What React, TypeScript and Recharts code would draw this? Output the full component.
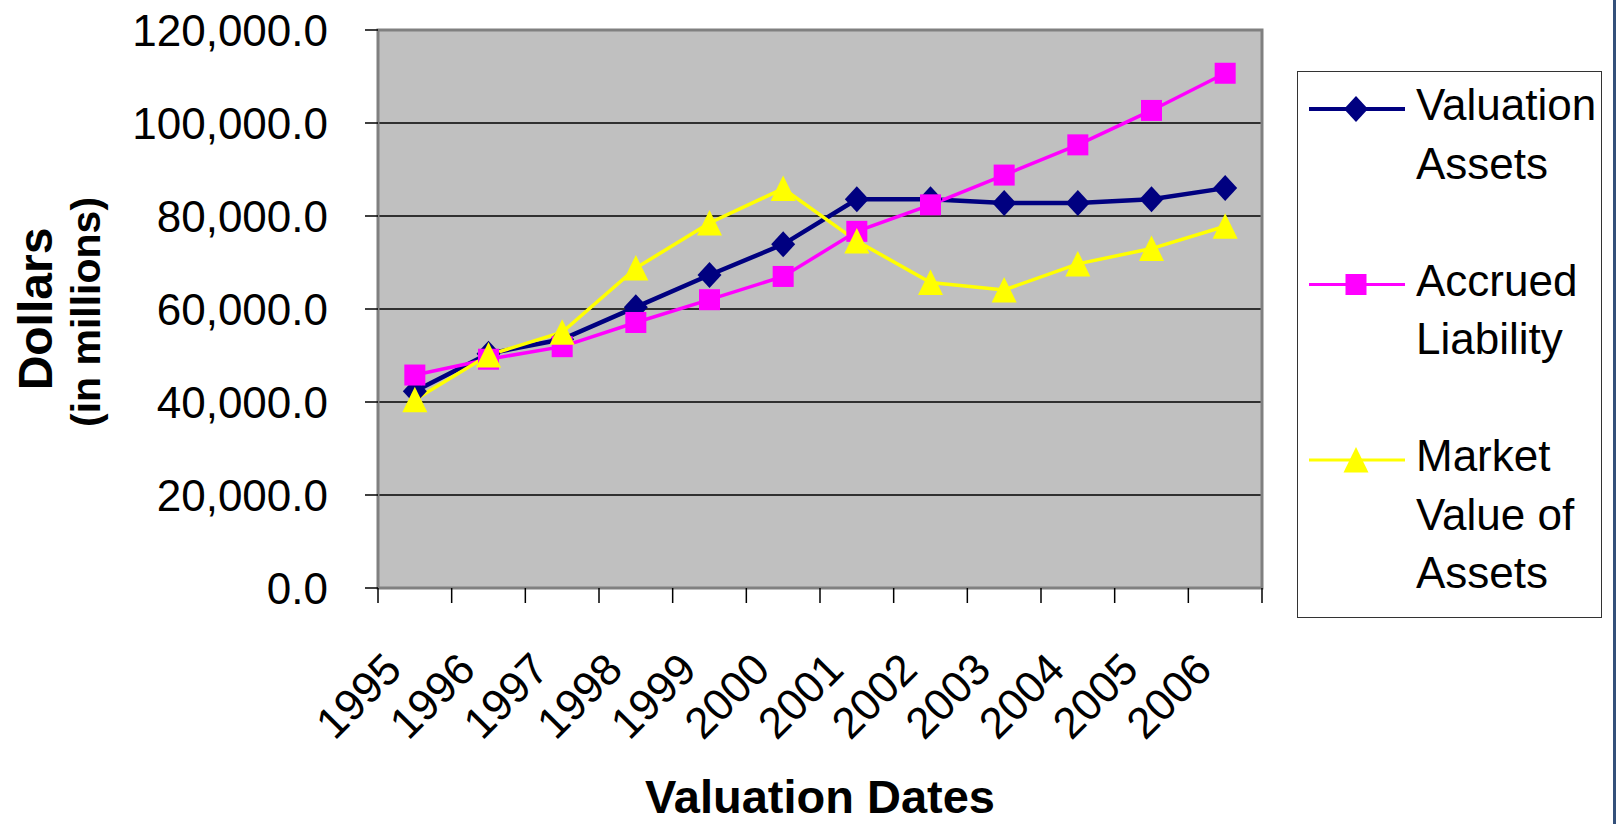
import { LineChart, Line, XAxis, YAxis, CartesianGrid, ReferenceArea } from 'recharts'

const years = ['1995', '1996', '1997', '1998', '1999', '2000', '2001', '2002', '2003', '2004', '2005', '2006']
const valuationAssets = [42300, 50400, 53500, 60400, 67300, 73900, 83600, 83600, 82800, 82800, 83600, 86000]
const accruedLiability = [45800, 49200, 51900, 57100, 62000, 67000, 76700, 82400, 88800, 95300, 102700, 110700]
const marketValue = [40500, 50100, 55000, 68800, 78500, 85900, 74600, 65700, 64100, 69700, 73000, 77800]
const yTicks = [0, 20000, 40000, 60000, 80000, 100000, 120000]

const FONT = '"Liberation Sans", Arial, sans-serif'

const data = years.map((year, i) => ({
  year,
  valuation: valuationAssets[i],
  accrued: accruedLiability[i],
  market: marketValue[i],
}))

const series = [
  { key: 'valuation', lines: ['Valuation', 'Assets'], color: '#000080', width: 4.5, shape: 'diamond' },
  { key: 'accrued', lines: ['Accrued', 'Liability'], color: '#FF00FF', width: 3.5, shape: 'square' },
  { key: 'market', lines: ['Market', 'Value of', 'Assets'], color: '#FFFF00', width: 3.5, shape: 'triangle' },
]

function Marker({ cx, cy, shape, color }: { cx: number; cy: number; shape: string; color: string }) {
  if (shape === 'diamond') {
    return <polygon points={`${cx},${cy - 13} ${cx + 12},${cy} ${cx},${cy + 13} ${cx - 12},${cy}`} fill={color} />
  }
  if (shape === 'square') {
    return <rect x={cx - 10.5} y={cy - 10.5} width={21} height={21} fill={color} />
  }
  return <polygon points={`${cx},${cy - 13} ${cx + 12.5},${cy + 12.5} ${cx - 12.5},${cy + 12.5}`} fill={color} />
}

const fmt = (v: number) => v.toLocaleString('en-US', { minimumFractionDigits: 1, maximumFractionDigits: 1 })

// category labels sit mid-band; tick marks go on the band edges like Excel
const XTick = ({ x, y, payload, index }: any) => {
  const half = payload.offset ?? 36.8
  const ax = x - 11
  const ay = y + 84
  return (
    <g>
      <line x1={x - half} x2={x - half} y1={y} y2={y + 15} stroke="#000" strokeWidth={1.5} />
      {index === years.length - 1 && <line x1={x + half} x2={x + half} y1={y} y2={y + 15} stroke="#000" strokeWidth={1.5} />}
      <text x={ax} y={ay} transform={`rotate(-45 ${ax} ${ay})`} textAnchor="end" fontSize={44} fontFamily={FONT} fill="#000">
        {payload.value}
      </text>
    </g>
  )
}

export default function App() {
  const lineH = 58.5
  let baseline = 120
  const legendRows = series.map((s) => {
    const row = { ...s, first: baseline }
    baseline += lineH * (s.lines.length + 1)
    return row
  })

  return (
    <div style={{ position: 'absolute', left: 0, top: 0, width: 1617, height: 824, background: '#fff', overflow: 'hidden' }}>
      <LineChart width={1617} height={824} data={data} margin={{ top: 30, right: 355, bottom: 0, left: 0 }}>
        <CartesianGrid vertical={false} stroke="#000" strokeWidth={1.5} fill="#C0C0C0" fillOpacity={1} />
        <ReferenceArea y1={0} y2={120000} fill="none" stroke="#808080" strokeWidth={3} />
        <XAxis dataKey="year" scale="band" height={236} axisLine={false} tickLine={false} tickSize={0} tickMargin={0} tick={<XTick />} interval={0} />
        <YAxis
          width={378}
          domain={[0, 120000]}
          ticks={yTicks}
          tickFormatter={fmt}
          axisLine={false}
          tickSize={13}
          tickMargin={37}
          tickLine={{ stroke: '#000', strokeWidth: 1.5 }}
          tick={{ fill: '#000', fontSize: 44, fontFamily: FONT }}
        />
        {series.map((s) => (
          <Line
            key={s.key}
            dataKey={s.key}
            type="linear"
            stroke={s.color}
            strokeWidth={s.width}
            isAnimationActive={false}
            activeDot={false}
            dot={(p: any) => <Marker key={`${s.key}-${p.index}`} cx={p.cx} cy={p.cy} shape={s.shape} color={s.color} />}
          />
        ))}
      </LineChart>
      <svg width={1617} height={824} style={{ position: 'absolute', left: 0, top: 0, pointerEvents: 'none' }} fontFamily={FONT}>
        <text x={52} y={309} transform="rotate(-90 52 309)" textAnchor="middle" fontSize={48} fontWeight="bold">Dollars</text>
        <text x={100} y={312} transform="rotate(-90 100 312)" textAnchor="middle" fontSize={41} fontWeight="bold">(in millions)</text>
        <text x={820} y={813} textAnchor="middle" fontSize={47} fontWeight="bold">Valuation Dates</text>
        <rect x={1297.5} y={71.5} width={304} height={546} fill="#fff" stroke="#333" strokeWidth={1} />
        {legendRows.map((r) => (
          <g key={r.key}>
            <line x1={1309} x2={1405} y1={r.first - 11} y2={r.first - 11} stroke={r.color} strokeWidth={r.width - 0.5} />
            <Marker cx={1356} cy={r.first - 11} shape={r.shape} color={r.color} />
            {r.lines.map((t, j) => (
              <text key={t} x={1416} y={r.first + j * lineH} fontSize={44} fill="#000">{t}</text>
            ))}
          </g>
        ))}
        <line x1={1614.5} x2={1614.5} y1={0} y2={824} stroke="#34507a" strokeWidth={3} />
      </svg>
    </div>
  )
}
